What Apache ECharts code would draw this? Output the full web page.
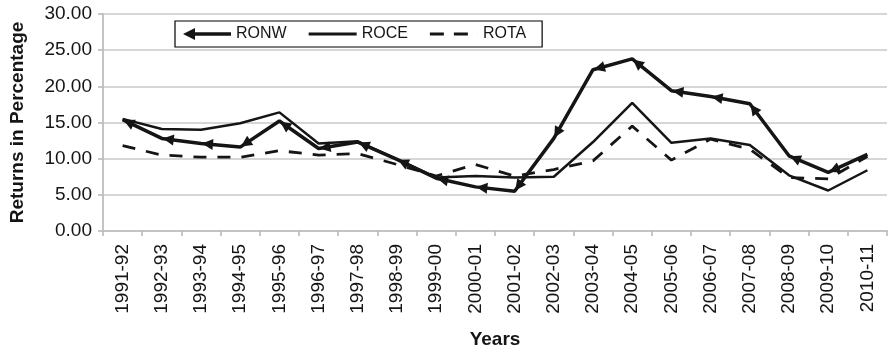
<!DOCTYPE html>
<html>
<head>
<meta charset="utf-8">
<script src="https://cdn.jsdelivr.net/npm/echarts@6/dist/echarts.min.js"></script>
<style>
html,body{margin:0;padding:0;background:#fff;}
#c{width:889px;height:354px;}
</style>
</head>
<body>
<div id="c"></div>
<script>
const years = ['1991-92','1992-93','1993-94','1994-95','1995-96','1996-97','1997-98','1998-99','1999-00','2000-01','2001-02','2002-03','2003-04','2004-05','2005-06','2006-07','2007-08','2008-09','2009-10','2010-11'];
const RONW = [15.4, 12.8, 12.1, 11.6, 15.2, 11.4, 12.3, 9.9, 7.3, 6.1, 5.5, 12.8, 22.3, 23.8, 19.4, 18.6, 17.6, 10.4, 8.1, 10.6];
const ROCE = [15.5, 14.1, 14.0, 14.9, 16.4, 12.1, 12.4, 9.9, 7.4, 7.6, 7.4, 7.5, 12.3, 17.7, 12.2, 12.8, 11.9, 7.7, 5.6, 8.4];
const ROTA = [11.8, 10.5, 10.2, 10.2, 11.1, 10.5, 10.7, 9.2, 7.6, 9.2, 7.6, 8.5, 9.7, 14.5, 9.8, 12.7, 11.3, 7.4, 7.2, 10.3];
const yTicks = {min: 0, max: 30, interval: 5};

const FONT = "'Liberation Sans', Arial, sans-serif";
const INK = '#151515';
const chart = echarts.init(document.getElementById('c'), null, {renderer: 'canvas'});

const arrowData = RONW.slice(0, -1).map((v, i) => [i, v]);

chart.setOption({
  animation: false,
  backgroundColor: '#ffffff',
  grid: {left: 102, right: 2, top: 14, bottom: 121},
  legend: {
    left: 175, top: 21,
    padding: [5, 16, 5, 8],
    itemWidth: 48, itemHeight: 12, itemGap: 22,
    borderColor: '#000', borderWidth: 1.2,
    backgroundColor: '#fff',
    textStyle: {fontFamily: FONT, fontSize: 16, color: INK},
    data: [
      {name: 'RONW', icon: 'path://M0,6 L12,0 L12,4.3 L48,4.3 L48,7.7 L12,7.7 L12,12 Z'},
      {name: 'ROCE', icon: 'path://M0,0 L48,0 L48,3 L0,3 Z'},
      {name: 'ROTA', icon: 'path://M0,0 L14,0 L14,3.2 L0,3.2 Z M24,0 L38,0 L38,3.2 L24,3.2 Z M47.95,0 L48,0 L48,3.2 L47.95,3.2 Z'}
    ]
  },
  xAxis: {
    type: 'category',
    data: years,
    boundaryGap: true,
    name: 'Years',
    nameLocation: 'middle',
    nameGap: 99,
    nameTextStyle: {fontFamily: FONT, fontSize: 19, fontWeight: 'bold', color: INK},
    axisLine: {lineStyle: {color: '#c4c4c4', width: 2}},
    axisTick: {show: true, length: 5, lineStyle: {color: '#b5b5b5', width: 1.5}},
    axisLabel: {rotate: 90, fontFamily: FONT, fontSize: 19, color: INK, margin: 13, interval: 0},
    splitLine: {show: false}
  },
  yAxis: {
    type: 'value',
    min: yTicks.min, max: yTicks.max, interval: yTicks.interval,
    name: 'Returns in Percentage',
    nameLocation: 'middle',
    nameGap: 76,
    nameTextStyle: {fontFamily: FONT, fontSize: 19, fontWeight: 'bold', color: INK},
    axisLine: {show: true, lineStyle: {color: '#c4c4c4', width: 2}},
    axisTick: {show: true, length: 5, lineStyle: {color: '#b5b5b5', width: 1.5}},
    axisLabel: {fontFamily: FONT, fontSize: 19, color: INK, margin: 11, formatter: v => v.toFixed(2)},
    splitLine: {lineStyle: {color: '#d6d6d6', width: 2}}
  },
  series: [
    {
      name: 'RONW', type: 'line', data: RONW, symbol: 'none',
      lineStyle: {color: INK, width: 3.5}, itemStyle: {color: INK}, z: 4
    },
    {
      name: 'ROCE', type: 'line', data: ROCE, symbol: 'none',
      lineStyle: {color: INK, width: 2.5}, itemStyle: {color: INK}, z: 3
    },
    {
      name: 'ROTA', type: 'line', data: ROTA, symbol: 'none',
      lineStyle: {color: INK, width: 2.8, type: [13, 11]}, itemStyle: {color: INK}, z: 2
    },
    {
      name: 'RONW-arrows', type: 'custom', data: arrowData, z: 5,
      renderItem: function (params, api) {
        const i = api.value(0);
        const p0 = api.coord([i, RONW[i]]);
        const p1 = api.coord([i + 1, RONW[i + 1]]);
        const dx = p1[0] - p0[0], dy = p1[1] - p0[1];
        const len = Math.sqrt(dx * dx + dy * dy) || 1;
        const ux = dx / len, uy = dy / len;
        const px = -uy, py = ux;
        const L = 12, W = 5.5;
        const tip = [p0[0] + ux * 1, p0[1] + uy * 1];
        const b = [p0[0] + ux * L, p0[1] + uy * L];
        return {
          type: 'polygon',
          shape: {points: [tip, [b[0] + px * W, b[1] + py * W], [b[0] - px * W, b[1] - py * W]]},
          style: {fill: INK}
        };
      }
    }
  ]
});
</script>
</body>
</html>
